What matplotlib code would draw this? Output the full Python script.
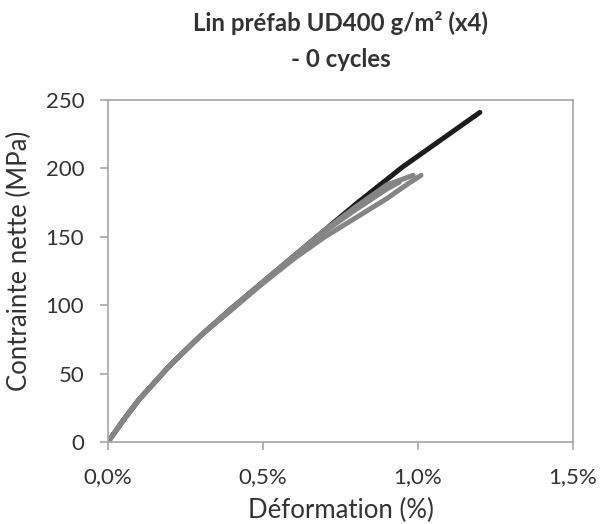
import numpy as np
import matplotlib
matplotlib.use('Agg')
import matplotlib.pyplot as plt
from matplotlib.ticker import FuncFormatter

plt.rcParams['font.family'] = ['Lato', 'DejaVu Sans']

# Strain (%) / net stress (MPa), one list per specimen
strain_1 = [0.0, 0.05, 0.1, 0.2, 0.3, 0.4, 0.5, 0.6, 0.7, 0.8, 0.9, 0.95, 1.0, 1.05, 1.1, 1.15, 1.2]
stress_1 = [0, 16, 31, 56, 78, 98, 117, 136, 155, 174, 192, 201, 209, 217, 225, 233, 241]

strain_2 = [0.0, 0.05, 0.1, 0.2, 0.3, 0.4, 0.5, 0.6, 0.7, 0.8, 0.9, 0.985]
stress_2 = [0, 16, 31, 56, 78, 98, 117, 136, 155, 172, 188, 195]

strain_3 = [0.0, 0.05, 0.1, 0.2, 0.3, 0.4, 0.5, 0.6, 0.7, 0.8, 0.9, 0.95, 1.01]
stress_3 = [0, 16, 31, 56, 78, 97, 116, 134, 150, 164, 178, 186, 195]

strain_4 = [0.0, 0.05, 0.1, 0.2, 0.3, 0.4, 0.5, 0.6, 0.7, 0.8, 0.9, 0.94]
stress_4 = [0, 16, 31, 56, 78, 97, 117, 136, 154, 170, 185, 190]

title_txt = "Lin préfab UD400 g/m² (x4)\n- 0 cycles"

fig = plt.figure(figsize=(6.03, 5.24), dpi=100)
ax = fig.add_axes([0.179, 0.1565, 0.771, 0.6525])

ax.plot(strain_1, stress_1, color='#1c1c1c', lw=3.6, solid_capstyle='round')
for sx, sy in [(strain_2, stress_2), (strain_3, stress_3), (strain_4, stress_4)]:
    ax.plot(sx, sy, color='#858585', lw=3.6, solid_capstyle='round')

ax.set_xlim(0, 1.5)
ax.set_ylim(0, 250)
ax.set_xticks([0, 0.5, 1.0, 1.5])
ax.set_yticks([0, 50, 100, 150, 200, 250])
ax.xaxis.set_major_formatter(FuncFormatter(lambda v, p: f"{v:.1f}%".replace('.', ',')))

for s in ax.spines.values():
    s.set_color('#a6a6a6')
    s.set_linewidth(1.2)
ax.tick_params(direction='out', length=6, width=1.2, color='#a6a6a6',
               labelsize=16, labelcolor='#333333')
ax.tick_params(axis='x', pad=12)
ax.tick_params(axis='y', pad=11)

ax.set_xlabel('Déformation (%)', fontsize=18.5, color='#333333')
ax.set_ylabel('Contrainte nette (MPa)', fontsize=18.5, color='#333333')
ax.xaxis.set_label_coords(0.501, -0.164)
ax.yaxis.set_label_coords(-0.163, 0.529)

fig.text(0.565, 0.922, title_txt, ha='center', va='center', fontsize=17.3,
         fontweight='bold', color='#333333', linespacing=1.7)

fig.savefig('out.png', dpi=100)
